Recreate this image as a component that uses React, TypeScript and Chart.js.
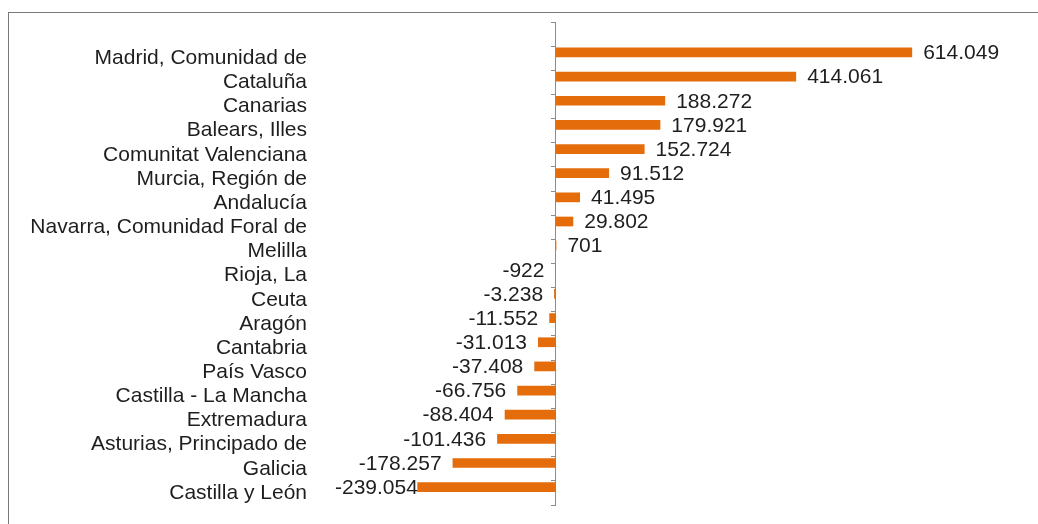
import React, { useEffect, useRef } from 'react';
import { Chart, registerables } from 'chart.js';

Chart.register(...registerables);

const categories: string[] = [
  '',
  'Madrid, Comunidad de',
  'Cataluña',
  'Canarias',
  'Balears, Illes',
  'Comunitat Valenciana',
  'Murcia, Región de',
  'Andalucía',
  'Navarra, Comunidad Foral de',
  'Melilla',
  'Rioja, La',
  'Ceuta',
  'Aragón',
  'Cantabria',
  'País Vasco',
  'Castilla - La Mancha',
  'Extremadura',
  'Asturias, Principado de',
  'Galicia',
  'Castilla y León',
];

const saldo: (number | null)[] = [
  null, 614049, 414061, 188272, 179921, 152724, 91512, 41495, 29802, 701,
  -922, -3238, -11552, -31013, -37408, -66756, -88404, -101436, -178257, -239054,
];

const emptySeries: (number | null)[] = [
  null, null, null, null, null, null, null, null, null, null,
  null, null, null, null, null, null, null, null, null, null,
];

const xMin = -362000;
const xMax = 781000;

const FONT = 'Liberation Sans, Arial, sans-serif';
const FONT_SIZE = 21;
const TEXT = '#1e1e1e';
const BAR = '#E46C0A';
const AXIS = '#8c8c8c';

function fmt(v: number): string {
  const s = Math.abs(v).toString().replace(/\B(?=(\d{3})+(?!\d))/g, '.');
  return (v < 0 ? '-' : '') + s;
}

const valueLabels = {
  id: 'valueLabels',
  afterDatasetsDraw(chart: any) {
    const ctx = chart.ctx;
    const meta = chart.getDatasetMeta(0);
    const data = chart.data.datasets[0].data;
    const area = chart.chartArea;
    ctx.save();
    ctx.font = `${FONT_SIZE}px ${FONT}`;
    ctx.fillStyle = TEXT;
    ctx.textBaseline = 'middle';
    ctx.textAlign = 'left';
    meta.data.forEach((bar: any, i: number) => {
      const v = data[i];
      if (v === null || v === undefined) return;
      const txt = fmt(v);
      const w = ctx.measureText(txt).width;
      const gap = 11;
      let left: number;
      if (v >= 0) {
        left = bar.x + gap;
      } else {
        left = bar.x - gap - w;
        const limit = area.left - 11;
        if (left < limit) left = limit;
      }
      ctx.fillText(txt, left, bar.y + 1);
    });
    ctx.restore();
  },
};

export default function App() {
  const ref = useRef<HTMLCanvasElement | null>(null);

  useEffect(() => {
    if (!ref.current) return;
    const chart = new Chart(ref.current, {
      type: 'bar',
      data: {
        labels: categories,
        datasets: [
          {
            label: 'Saldo',
            data: saldo,
            backgroundColor: BAR,
            borderWidth: 0,
            categoryPercentage: 0.957,
            barPercentage: 0.84,
            yAxisID: 'y',
            xAxisID: 'x',
          },
          {
            label: '',
            data: emptySeries,
            backgroundColor: BAR,
            borderWidth: 0,
            categoryPercentage: 0.957,
            barPercentage: 0.84,
            yAxisID: 'y',
            xAxisID: 'x',
          },
        ],
      },
      options: {
        indexAxis: 'y',
        animation: false,
        responsive: true,
        maintainAspectRatio: false,
        layout: { padding: { top: 9, bottom: 19, left: 0, right: 29 } },
        plugins: {
          legend: { display: false },
          tooltip: { enabled: false },
        },
        scales: {
          x: {
            type: 'linear',
            display: false,
            min: xMin,
            max: xMax,
          },
          y: {
            type: 'category',
            position: 'left',
            afterFit: (s: any) => {
              s.width = 337;
              s.paddingTop = 0;
              s.paddingBottom = 0;
            },
            grid: { display: false, drawTicks: false },
            border: { display: false },
            ticks: {
              autoSkip: false,
              padding: 39,
              color: TEXT,
              font: { family: FONT, size: FONT_SIZE },
            },
          },
          y2: {
            type: 'category',
            axis: 'y',
            position: { x: 0 },
            offset: true,
            afterFit: (s: any) => {
              s.paddingTop = 0;
              s.paddingBottom = 0;
            },
            grid: {
              offset: true,
              drawOnChartArea: false,
              color: AXIS,
              tickLength: 4,
              lineWidth: 1,
            },
            border: { display: true, color: AXIS, width: 1 },
            ticks: { display: false },
          },
        } as any,
      },
      plugins: [valueLabels],
    } as any);
    return () => chart.destroy();
  }, []);

  return (
    <div
      style={{
        position: 'fixed',
        left: 8,
        top: 12,
        width: 1030,
        height: 512,
        boxSizing: 'border-box',
        borderLeft: '1px solid #7a7a7a',
        borderTop: '1px solid #7a7a7a',
        background: '#fff',
      }}
    >
      <div style={{ position: 'absolute', left: 0, top: 0, width: 1029, height: 511 }}>
        <canvas ref={ref} />
      </div>
    </div>
  );
}
